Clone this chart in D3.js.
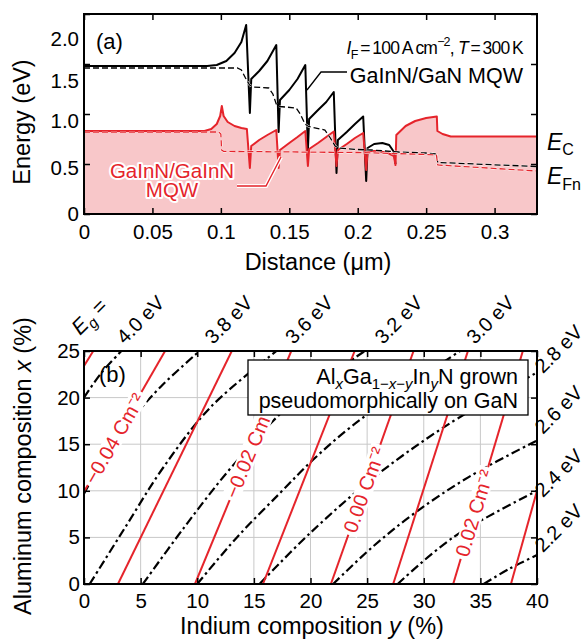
<!DOCTYPE html>
<html><head><meta charset="utf-8">
<script src="https://cdn.jsdelivr.net/npm/d3@7"></script>
<style>
body{margin:0;background:#fff}
svg{font-family:"Liberation Sans",Arial,Helvetica,sans-serif}
</style></head>
<body><svg id="c" width="587" height="641"></svg>
<script>
// ---------- DATA: panel (a) ----------
const distTicks=[0,0.05,0.1,0.15,0.2,0.25,0.3];
const distTickLabels=["0","0.05","0.1","0.15","0.2","0.25","0.3"];
const energyTicks=[0,0.5,1.0,1.5,2.0];
const energyTickLabels=["0","0.5","1.0","1.5","2.0"];
// conduction band, GaInN/GaN MQW (black)
const ecGaN=[[0,1.48],[0.09,1.48],[0.097,1.49],[0.104,1.53],[0.11,1.61],[0.115,1.72],[0.1185,1.89],[0.1212,1.01],[0.1222,1.35],[0.128,1.43],[0.134,1.53],[0.1405,1.69],[0.1422,0.82],[0.1432,1.14],[0.15,1.24],[0.156,1.35],[0.1617,1.49],[0.1636,0.64],[0.1645,0.95],[0.171,1.04],[0.177,1.12],[0.1825,1.22],[0.1845,0.41],[0.1855,0.74],[0.192,0.82],[0.198,0.9],[0.204,0.975],[0.2062,0.33],[0.2072,0.66],[0.212,0.70],[0.218,0.71],[0.223,0.69],[0.2265,0.62],[0.2276,0.50]];
// conduction band, GaInN/GaInN MQW (red)
const ecGaInN=[[0,0.83],[0.088,0.83],[0.093,0.85],[0.097,0.9],[0.0995,0.98],[0.1007,1.08],[0.102,0.98],[0.105,0.92],[0.11,0.88],[0.115,0.86],[0.119,0.85],[0.1212,0.46],[0.1222,0.68],[0.128,0.74],[0.134,0.79],[0.1405,0.84],[0.1422,0.46],[0.1432,0.64],[0.15,0.71],[0.156,0.77],[0.1617,0.83],[0.1636,0.48],[0.1645,0.65],[0.171,0.71],[0.177,0.77],[0.1825,0.825],[0.1845,0.48],[0.1855,0.64],[0.192,0.7],[0.198,0.76],[0.204,0.81],[0.2062,0.44],[0.2072,0.63],[0.215,0.63],[0.222,0.61],[0.2265,0.58],[0.2276,0.49],[0.2282,0.79],[0.235,0.88],[0.242,0.93],[0.25,0.96],[0.2578,0.975],[0.2582,0.83],[0.262,0.80],[0.268,0.775],[0.331,0.775]];
// quasi Fermi level, GaInN/GaN (black dashed)
const efGaN=[[0,1.46],[0.112,1.46],[0.115,1.44],[0.118,1.36],[0.121,1.29],[0.124,1.27],[0.135,1.26],[0.138,1.2],[0.1405,1.1],[0.143,1.075],[0.155,1.06],[0.158,1.0],[0.1615,0.9],[0.164,0.875],[0.176,0.84],[0.18,0.76],[0.1835,0.68],[0.186,0.66],[0.2,0.645],[0.21,0.64],[0.23,0.62],[0.25,0.61],[0.2575,0.60],[0.2585,0.515],[0.331,0.475]];
// quasi Fermi level, GaInN/GaInN (red dashed)
const efGaInN=[[0,0.82],[0.0985,0.82],[0.1,0.80],[0.1005,0.64],[0.102,0.626],[0.2,0.615],[0.25,0.595],[0.2575,0.59],[0.2585,0.49],[0.331,0.43]];

// ---------- DATA: panel (b) ----------
const inTicks=[0,5,10,15,20,25,30,35,40];
const alTicks=[0,5,10,15,20,25];
// iso-polarization-charge lines (-0.05 ... 0.03 C/m2), [In %, Al %]
const polLines=[
 [[0,23.4],[0.82,25]],
 [[0,9.9],[7.16,25]],
 [[3.0,0],[13.05,25]],
 [[9.8,0],[18.3,25]],
 [[15.8,0],[23.9,25]],
 [[21.8,0],[29.1,25]],
 [[27.3,0],[33.9,25]],
 [[32.6,0],[38.75,25]],
 [[37.7,0],[40,10]]
];
const polLabels=["\u22120.04 Cm\u207B\u00B2","\u22120.02 Cm\u207B\u00B2","0.00 Cm\u207B\u00B2","0.02 Cm\u207B\u00B2"];
const polLabelLine=[1,3,5,7];
const polLabelAl=[15.6,14.3,10.1,7.6];
// iso-bandgap lines [In %, Al %]
const gapLines=[
 [[0,20],[1.5,22.6],[3.3,25]],
 [[0,9.7],[1.8,13.5],[4.0,17.35],[6.8,21.2],[10.2,25]],
 [[0.5,0],[3.6,6],[7.0,12.5],[11.2,19],[17,25]],
 [[5.2,0],[8.8,6],[13,12.5],[18,19],[24.8,25]],
 [[10,0],[13.5,5],[17.3,9.75],[20.2,13.3],[23.2,16.5],[26.3,19.3],[33.2,25]],
 [[15.5,0],[20,5.5],[25.5,11.35],[32,17],[40,22.7]],
 [[22,0],[25.5,4],[29.3,7.7],[34,11.5],[40,15.4]],
 [[27.7,0],[32.6,5],[40,10]],
 [[35.3,0],[37.5,1.6],[40,3.1]]
];
const gapTopLabels=["4.0 eV","3.8 eV","3.6 eV","3.2 eV","3.0 eV"];
const gapTopPos=[3.6,11.4,18.5,26.4,34.5];
const gapRightLabels=["2.8 eV","2.6 eV","2.4 eV","2.2 eV"];
const gapRightPos=[22.5,16,9.2,3.3];

// ---------- DRAW ----------
const svg=d3.select('#c');
const RED="#e5242b", PINK="#f8c7c9";
const FS=20.5, TS=23.5;

// ===== panel (a)
const xa=d3.scaleLinear().domain([0,0.331]).range([84,537]);
const ya=d3.scaleLinear().domain([0,2.0]).range([214,14]);
const ga=svg.append('g');
ga.append('clipPath').attr('id','ca').append('rect').attr('x',84).attr('y',14).attr('width',453).attr('height',200);
const pa=ga.append('g').attr('clip-path','url(#ca)');
const line=d3.line().x(d=>xa(d[0])).y(d=>ya(d[1]));
pa.append('path').datum(ecGaInN).attr('fill',PINK)
  .attr('d',d3.area().x(d=>xa(d[0])).y0(ya(0)).y1(d=>ya(d[1])));
pa.append('path').datum(ecGaN).attr('d',line).attr('fill','none').attr('stroke','#000').attr('stroke-width',2).attr('stroke-linejoin','round');
pa.append('path').datum(ecGaInN).attr('d',line).attr('fill','none').attr('stroke',RED).attr('stroke-width',2).attr('stroke-linejoin','round');
[[efGaN,'#000'],[efGaInN,RED]].forEach(([dat,c])=>{
  pa.append('path').datum(dat).attr('d',line).attr('fill','none').attr('stroke','#fff').attr('stroke-width',2.2).attr('stroke-dasharray','6,3');
  pa.append('path').datum(dat).attr('d',line).attr('fill','none').attr('stroke',c).attr('stroke-width',1.3).attr('stroke-dasharray','6,3');
});
// axes (a)
ga.append('g').attr('transform','translate(0,214)').call(d3.axisBottom(xa).tickValues(distTicks).tickFormat((d,i)=>distTickLabels[i]).tickSize(-6).tickPadding(10));
ga.append('g').attr('transform','translate(0,14)').call(d3.axisTop(xa).tickValues(distTicks).tickFormat('').tickSize(-6));
const ayA=ga.append('g').attr('transform','translate(84,0)').call(d3.axisLeft(ya).tickValues(energyTicks).tickFormat((d,i)=>energyTickLabels[i]).tickSize(-6).tickPadding(5));
ga.append('g').attr('transform','translate(537,0)').call(d3.axisRight(ya).tickValues(energyTicks).tickFormat('').tickSize(-6));
const yOff=[-1,3,6,16,24];
ayA.selectAll('.tick text').attr('dy',(d,i)=>(0.35*FS+yOff[i])+'px');
ga.append('rect').attr('x',84).attr('y',14).attr('width',453).attr('height',200).attr('fill','none').attr('stroke','#000').attr('stroke-width',2);

ga.append('text').attr('x',318).attr('y',270).attr('text-anchor','middle').attr('font-size',TS).text('Distance (\u03BCm)');
ga.append('text').attr('transform','translate(30,122) rotate(-90)').attr('text-anchor','middle').attr('font-size',TS).text('Energy (eV)');
ga.append('text').attr('x',96).attr('y',49).attr('font-size',22).text('(a)');
const t1=ga.append('text').attr('x',523).attr('y',54).attr('text-anchor','end').attr('font-size',17.5).attr('letter-spacing','-0.8');
t1.append('tspan').attr('font-style','italic').text('I');
t1.append('tspan').attr('font-size',12.5).attr('dy',5).text('F');
t1.append('tspan').attr('dy',-5).text('\u2009=\u2009100\u2009A\u2009cm');
t1.append('tspan').attr('font-size',12.5).attr('dy',-8).text('\u22122');
t1.append('tspan').attr('dy',8).text(', ');
t1.append('tspan').attr('font-style','italic').text('T');
t1.append('tspan').text('\u2009=\u2009300\u2009K');
ga.append('text').attr('x',523).attr('y',83).attr('text-anchor','end').attr('font-size',21.5).text('GaInN/GaN MQW');
ga.append('path').attr('d','M347,72 H321 L307,90').attr('fill','none').attr('stroke','#000').attr('stroke-width',1.3);
// red label with white halo
const rl=ga.append('g');
rl.append('path').attr('d','M237,186 H266 L281,157').attr('fill','none').attr('stroke','#fff').attr('stroke-width',4);
rl.append('path').attr('d','M237,186 H266 L281,157').attr('fill','none').attr('stroke',RED).attr('stroke-width',1.4);
[['GaInN/GaInN',171],['MQW',190]].forEach(([s,y])=>{
  rl.append('text').attr('x',172).attr('y',y+7).attr('text-anchor','middle').attr('font-size',20.5)
   .attr('fill',RED).attr('stroke','#fff').attr('stroke-width',4).attr('paint-order','stroke').attr('stroke-linejoin','round').text(s);
});
const ec=ga.append('text').attr('x',547).attr('y',150).attr('font-size',23);
ec.append('tspan').attr('font-style','italic').text('E');
ec.append('tspan').attr('font-size',16).attr('dy',5).text('C');
const ef=ga.append('text').attr('x',547).attr('y',184).attr('font-size',23);
ef.append('tspan').attr('font-style','italic').text('E');
ef.append('tspan').attr('font-size',16).attr('dy',6).text('Fn');

// ===== panel (b)
const xb=d3.scaleLinear().domain([0,40]).range([84,537]);
const yb=d3.scaleLinear().domain([0,25]).range([584,351]);
const gb=svg.append('g');
gb.append('clipPath').attr('id','cb').append('rect').attr('x',84).attr('y',351).attr('width',453).attr('height',233);
const pb=gb.append('g').attr('clip-path','url(#cb)');
// grid
pb.selectAll('.gx').data(inTicks).enter().append('line').attr('x1',d=>xb(d)).attr('x2',d=>xb(d)).attr('y1',351).attr('y2',584).attr('stroke','#c8c8c8').attr('stroke-width',1);
pb.selectAll('.gy').data(alTicks).enter().append('line').attr('y1',d=>yb(d)).attr('y2',d=>yb(d)).attr('x1',84).attr('x2',537).attr('stroke','#c8c8c8').attr('stroke-width',1);
const lb=d3.line().x(d=>xb(d[0])).y(d=>yb(d[1]));
const lbc=d3.line().curve(d3.curveCatmullRom).x(d=>xb(d[0])).y(d=>yb(d[1]));
gapLines.forEach(g=>pb.append('path').datum(g).attr('d',lbc).attr('fill','none').attr('stroke','#000').attr('stroke-width',2.2).attr('stroke-dasharray','9,3.5,2.5,3.5'));
polLines.forEach(g=>pb.append('path').datum(g).attr('d',lb).attr('fill','none').attr('stroke',RED).attr('stroke-width',2));
// contour labels placed on their lines
polLabels.forEach((s,i)=>{
  const L=polLines[polLabelLine[i]], a=L[0], b=L[1];
  const al=polLabelAl[i], u=a[0]+(b[0]-a[0])*(al-a[1])/(b[1]-a[1]);
  const ang=Math.atan2(yb(b[1])-yb(a[1]),xb(b[0])-xb(a[0]))*180/Math.PI;
  const g=pb.append('g').attr('transform',`translate(${xb(u)},${yb(al)}) rotate(${ang})`);
  const t=g.append('text').attr('text-anchor','middle').attr('dy','0.35em').attr('font-size',20).attr('fill',RED).text(s);
  const bb=t.node().getBBox();
  g.insert('rect','text').attr('x',bb.x-3).attr('y',bb.y+2).attr('width',bb.width+6).attr('height',bb.height-4).attr('fill','#fff');
});
// axes (b)
gb.append('g').attr('transform','translate(0,584)').call(d3.axisBottom(xb).tickValues(inTicks).tickSize(-6).tickPadding(9));
gb.append('g').attr('transform','translate(0,351)').call(d3.axisTop(xb).tickValues(inTicks).tickFormat('').tickSize(-6));
gb.append('g').attr('transform','translate(84,0)').call(d3.axisLeft(yb).tickValues(alTicks).tickSize(-6).tickPadding(4));
gb.append('g').attr('transform','translate(537,0)').call(d3.axisRight(yb).tickValues(alTicks).tickFormat('').tickSize(-6));
gb.append('rect').attr('x',84).attr('y',351).attr('width',453).attr('height',233).attr('fill','none').attr('stroke','#000').attr('stroke-width',2);
// legend box
gb.append('rect').attr('x',248).attr('y',360).attr('width',280).attr('height',55).attr('fill','#fff').attr('stroke','#000').attr('stroke-width',1.3);
const lt=gb.append('text').attr('x',518).attr('y',384).attr('text-anchor','end').attr('font-size',21.5);
lt.append('tspan').text('Al');
lt.append('tspan').attr('font-style','italic').attr('font-size',15).attr('dy',5).text('x');
lt.append('tspan').attr('dy',-5).text('Ga');
lt.append('tspan').attr('font-size',15).attr('dy',5).text('1\u2212').append('tspan').attr('font-style','italic').text('x');
lt.append('tspan').attr('font-size',15).text('\u2212');
lt.append('tspan').attr('font-size',15).attr('font-style','italic').text('y');
lt.append('tspan').attr('dy',-5).text('In');
lt.append('tspan').attr('font-style','italic').attr('font-size',15).attr('dy',5).text('y');
lt.append('tspan').attr('dy',-5).text('N grown');
gb.append('text').attr('x',518).attr('y',408).attr('text-anchor','end').attr('font-size',21.5).text('pseudomorphically on GaN');
gb.append('text').attr('x',99).attr('y',382).attr('font-size',22).text('(b)');
// gap labels
gapTopLabels.forEach((s,i)=>{
  gb.append('text').attr('transform',`translate(${xb(gapTopPos[i])},345) rotate(-45)`).attr('font-size',20).text(s);
});
gapRightLabels.forEach((s,i)=>{
  gb.append('text').attr('transform',`translate(543,${yb(gapRightPos[i])}) rotate(-45)`).attr('font-size',20).text(s);
});
const eg=gb.append('text').attr('transform','translate(80,336) rotate(-45)').attr('font-size',21);
eg.append('tspan').attr('font-style','italic').text('E');
eg.append('tspan').attr('font-size',15).attr('dy',5).attr('font-style','italic').text('g');
eg.append('tspan').attr('dy',-5).text(' =');
// titles
const xt=gb.append('text').attr('x',312).attr('y',634).attr('text-anchor','middle').attr('font-size',TS);
xt.append('tspan').text('Indium composition ');
xt.append('tspan').attr('font-style','italic').text('y');
xt.append('tspan').text(' (%)');
const yt=gb.append('text').attr('transform','translate(31,466) rotate(-90)').attr('text-anchor','middle').attr('font-size',TS);
yt.append('tspan').text('Aluminum composition ');
yt.append('tspan').attr('font-style','italic').text('x');
yt.append('tspan').text(' (%)');

svg.selectAll('.tick text').attr('font-size',FS).attr('font-family','"Liberation Sans",Arial,sans-serif').attr('fill','#000');
svg.selectAll('.tick line').attr('stroke','#000').attr('stroke-width',1.5);
svg.selectAll('.domain').remove();
</script></body></html>
